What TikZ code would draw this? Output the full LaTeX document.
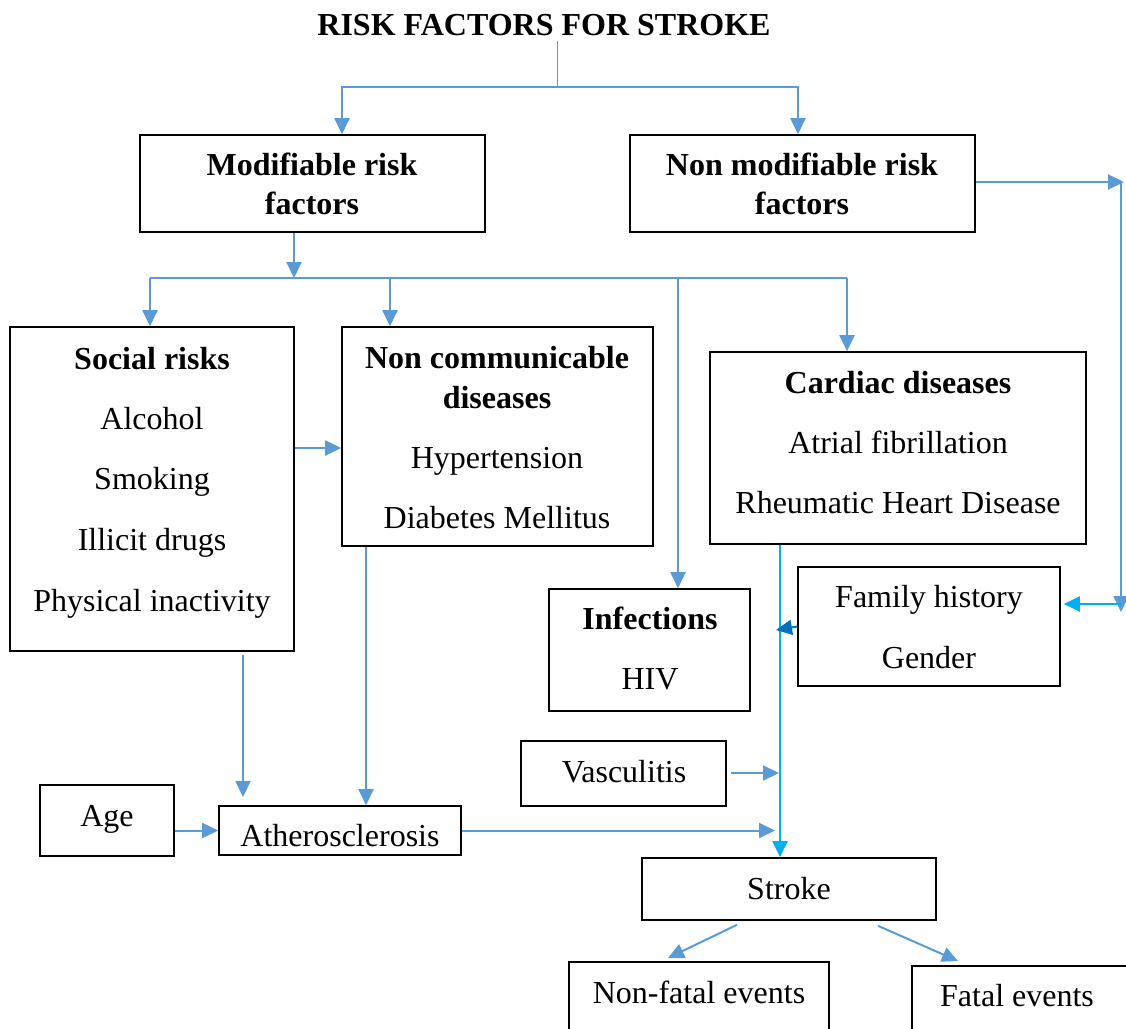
\documentclass[tikz,border=0pt]{standalone}
\usepackage{fontspec}
\setmainfont{Liberation Serif}
\usetikzlibrary{arrows.meta}
\definecolor{lb}{HTML}{5B9BD5}
\definecolor{cy}{HTML}{00B0F0}
\definecolor{db}{HTML}{0070C0}
\tikzset{
 box/.style={draw=black, line width=1.6pt, inner sep=0pt, fill=none},
 txt/.style={font=\fontsize{32}{38}\selectfont, anchor=base, inner sep=0pt},
 btxt/.style={font=\fontsize{32}{38}\selectfont\bfseries, anchor=base, inner sep=0pt},
 ln/.style={draw=lb, line width=2pt},
 arr/.style={ln, -{Triangle[length=16pt,width=15pt]}},
 arrc/.style={arr, draw=cy},
 arrd/.style={arr, draw=db},
}
\begin{document}
\begin{tikzpicture}[x=1pt,y=-1pt]
\useasboundingbox (0,0) rectangle (1126,1028);
\clip (0,0) rectangle (1126,1028);
% title
\node[btxt] (title) at (544,35) {RISK FACTORS FOR STROKE};
% boxes
\node[box, minimum width=345pt, minimum height=97pt] (mod) at (312.5,183.5) {};
\node[box, minimum width=345pt, minimum height=97pt] (nonmod) at (802.5,183.5) {};
\node[box, minimum width=284pt, minimum height=324pt] (social) at (152,489) {};
\node[box, minimum width=311pt, minimum height=219pt] (ncd) at (497.5,436.5) {};
\node[box, minimum width=376pt, minimum height=192pt] (cardiac) at (898,448) {};
\node[box, minimum width=201pt, minimum height=122pt] (infect) at (649.5,650) {};
\node[box, minimum width=262pt, minimum height=119pt] (family) at (929,626.5) {};
\node[box, minimum width=205pt, minimum height=65pt] (vasc) at (623.5,773.5) {};
\node[box, minimum width=134pt, minimum height=71pt] (age) at (107,820.5) {};
\node[box, minimum width=242pt, minimum height=49pt] (ath) at (340,830.5) {};
\node[box, minimum width=294pt, minimum height=62pt] (stroke) at (789,889) {};
\node[box, minimum width=260pt, minimum height=98pt] (nonfatal) at (699,1011) {};
\node[box, minimum width=268pt, minimum height=94pt] (fatal) at (1046,1013) {};
% texts
\node[btxt] (mod1) at (312,175) {Modifiable risk};
\node[btxt] (mod2) at (312,214) {factors};
\node[btxt] (nm1) at (802,175) {Non modifiable risk};
\node[btxt] (nm2) at (802,214) {factors};
\node[btxt] (so1) at (152,369) {Social risks};
\node[txt] (so2) at (152,429) {Alcohol};
\node[txt] (so3) at (152,489) {Smoking};
\node[txt] (so4) at (152,550) {Illicit drugs};
\node[txt] (so5) at (152,611) {Physical inactivity};
\node[btxt] (nc1) at (497,368) {Non communicable};
\node[btxt] (nc2) at (497,408) {diseases};
\node[txt] (nc3) at (497,468) {Hypertension};
\node[txt] (nc4) at (497,528) {Diabetes Mellitus};
\node[btxt] (ca1) at (898,393) {Cardiac diseases};
\node[txt] (ca2) at (898,453) {Atrial fibrillation};
\node[txt] (ca3) at (898,513) {Rheumatic Heart Disease};
\node[btxt] (in1) at (650,629) {Infections};
\node[txt] (in2) at (650,689) {HIV};
\node[txt] (fa1) at (929,607) {Family history};
\node[txt] (fa2) at (929,668) {Gender};
\node[txt] (va1) at (624,782) {Vasculitis};
\node[txt] (ag1) at (107,826) {Age};
\node[txt] (at1) at (340,846) {Atherosclerosis};
\node[txt] (st1) at (789,899) {Stroke};
\node[txt] (nf1) at (699,1003) {Non-fatal events};
\node[txt] (fe1) at (1017,1006) {Fatal events};
% junction coordinates
\coordinate (tj) at (557,87);
\coordinate (tL) at (342,87);
\coordinate (tR) at (798,87);
\coordinate (rtop) at (1124,182);
\coordinate (rbot) at (1121,612);
\coordinate (rf) at (1121,604);
\coordinate (mj) at (294,278);
\coordinate (hL) at (150,278);
\coordinate (h2) at (390,278);
\coordinate (h3) at (678,278);
\coordinate (hR) at (847,278);
\coordinate (sn) at (294,448);
\coordinate (sa) at (243,797);
\coordinate (na) at (366,806);
\coordinate (sx) at (775,830);
\coordinate (cv) at (780,544);
\coordinate (vv) at (779,773);
\coordinate (fv) at (776,630);
\coordinate (s1) at (737,924);
\coordinate (nf) at (668,958);
\coordinate (s2) at (878,925);
\coordinate (fe) at (958,961);
% connectors
\draw[ln, line width=1pt] ([yshift=-5pt]title.south -| tj) -- (tj);
\draw[arr] (tj) -- (tL) -- (tL |- mod.north);
\draw[arr] (tj) -- (tR) -- (tR |- nonmod.north);
\draw[arr] (nonmod.east |- rtop) -- (rtop);
\draw[arr] (1121,182) -- (rbot);
\draw[arrc] (rf) -- ([xshift=3pt]family.east |- rf);
\draw[arr] (mod.south -| mj) -- (mj);
\draw[ln, line width=1.3pt] (hL) -- (hR);
\draw[arr] (hL) -- (hL |- social.north);
\draw[arr] (h2) -- (h2 |- ncd.north);
\draw[arr] (h3) -- (h3 |- infect.north);
\draw[arr] (hR) -- (hR |- cardiac.north);
\draw[arr] (social.east |- sn) -- (ncd.west |- sn);
\draw[arr] ([yshift=-3pt]social.south -| sa) -- (sa);
\draw[arr] (ncd.south -| na) -- (na |- ath.north);
\draw[arr] (age.east |- ath.center) -- (ath.west);
\draw[arr] (ath.east) -- (ath.east -| sx);
\draw[arrc] (cardiac.south -| cv) -- (stroke.north -| cv);
\draw[arr] ([xshift=4pt]vasc.east |- vv) -- (vv);
\draw[arrd] (family.west) -- (fv);
\draw[arr] ([yshift=-4pt]stroke.south -| s1) -- (nf);
\draw[arr] ([yshift=-5pt]stroke.south -| s2) -- (fe);
\end{tikzpicture}
\end{document}
